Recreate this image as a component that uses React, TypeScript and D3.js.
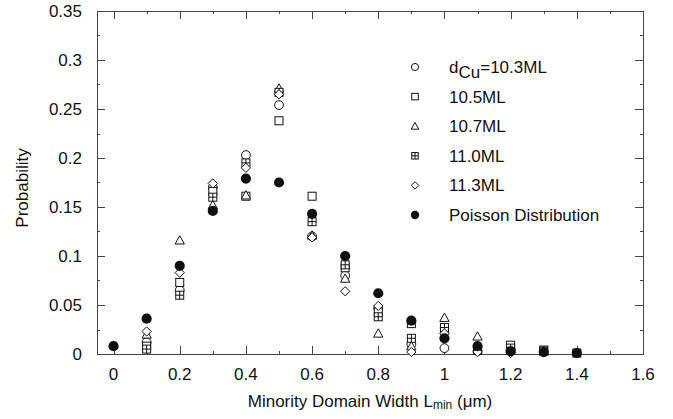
import * as d3 from 'd3';
import React, { useEffect, useRef } from 'react';

const xs = [0, 0.1, 0.2, 0.3, 0.4, 0.5, 0.6, 0.7, 0.8, 0.9, 1.0, 1.1, 1.2, 1.3, 1.4];

const cu103 = [null, 0.012, 0.065, 0.17, 0.203, 0.254, 0.12, 0.08, 0.047, 0.01, 0.006, 0.003, 0.004, null, null];
const cu105 = [null, 0.008, 0.073, 0.166, 0.161, 0.238, 0.161, 0.088, 0.043, 0.031, 0.024, 0.004, 0.009, 0.004, 0.001];
const cu107 = [null, 0.02, 0.116, 0.152, 0.162, 0.271, 0.121, 0.077, 0.021, 0.008, 0.037, 0.018, 0.005, 0.003, null];
const cu110 = [null, 0.005, 0.06, 0.16, 0.195, 0.267, 0.135, 0.091, 0.038, 0.016, 0.027, 0.004, 0.006, 0.003, null];
const cu113 = [null, 0.023, 0.083, 0.174, 0.19, 0.265, 0.119, 0.064, 0.049, 0.002, 0.021, 0.002, 0.001, null, null];
const poisson = [0.008, 0.036, 0.09, 0.146, 0.179, 0.175, 0.143, 0.1, 0.062, 0.034, 0.016, 0.008, 0.003, 0.002, 0.001];

const xTicks = [0, 0.2, 0.4, 0.6, 0.8, 1.0, 1.2, 1.4, 1.6];
const yTicks = [0, 0.05, 0.1, 0.15, 0.2, 0.25, 0.3, 0.35];

const series = [
  { name: '10.3ML', shape: 'circle', values: cu103 },
  { name: '10.5ML', shape: 'square', values: cu105 },
  { name: '10.7ML', shape: 'triangle', values: cu107 },
  { name: '11.0ML', shape: 'cross', values: cu110 },
  { name: '11.3ML', shape: 'diamond', values: cu113 },
  { name: 'Poisson Distribution', shape: 'dot', values: poisson },
];

function drawMarker(g, shape, cx, cy, s) {
  const ink = '#111';
  if (shape === 'circle') {
    g.append('circle').attr('cx', cx).attr('cy', cy).attr('r', s * 0.55)
      .attr('fill', '#fff').attr('stroke', ink).attr('stroke-width', 1);
  } else if (shape === 'square' || shape === 'cross') {
    const h = s * 0.5;
    g.append('rect').attr('x', cx - h).attr('y', cy - h).attr('width', 2 * h).attr('height', 2 * h)
      .attr('fill', '#fff').attr('stroke', ink).attr('stroke-width', 1);
    if (shape === 'cross') {
      g.append('path').attr('d', `M${cx - h},${cy}H${cx + h}M${cx},${cy - h}V${cy + h}`)
        .attr('stroke', ink).attr('stroke-width', 1);
    }
  } else if (shape === 'triangle') {
    const h = s * 0.58;
    g.append('path').attr('d', `M${cx},${cy - h}L${cx + h},${cy + h * 0.8}L${cx - h},${cy + h * 0.8}Z`)
      .attr('fill', '#fff').attr('stroke', ink).attr('stroke-width', 1);
  } else if (shape === 'diamond') {
    const h = s * 0.58;
    g.append('path').attr('d', `M${cx},${cy - h}L${cx + h},${cy}L${cx},${cy + h}L${cx - h},${cy}Z`)
      .attr('fill', '#fff').attr('stroke', ink).attr('stroke-width', 1);
  } else {
    g.append('circle').attr('cx', cx).attr('cy', cy).attr('r', s * 0.6).attr('fill', ink);
  }
}

function App() {
  const ref = useRef(null);

  useEffect(() => {
    const svg = d3.select(ref.current);
    svg.selectAll('*').remove();

    const left = 97, right = 643, top = 11, bottom = 354;
    const x = d3.scaleLinear().domain([-0.05, 1.6]).range([left, right]);
    const y = d3.scaleLinear().domain([0, 0.35]).range([bottom, top]);
    const axisColor = '#444';
    const font = 'Liberation Sans, Arial, sans-serif';

    // frame
    svg.append('rect').attr('x', left + 0.5).attr('y', top + 0.5).attr('width', right - left).attr('height', bottom - top)
      .attr('fill', 'none').attr('stroke', axisColor).attr('stroke-width', 1);

    // ticks (inward, all sides)
    const ticks = svg.append('g').attr('stroke', axisColor).attr('stroke-width', 1);
    d3.range(0, 1.61, 0.1).forEach((v, i) => {
      const len = i % 2 === 0 ? 8 : 3;
      const px = Math.round(x(v)) + 0.5;
      ticks.append('line').attr('x1', px).attr('x2', px).attr('y1', bottom).attr('y2', bottom - len);
      ticks.append('line').attr('x1', px).attr('x2', px).attr('y1', top).attr('y2', top + len);
    });
    d3.range(0, 0.351, 0.025).forEach((v, i) => {
      const len = i % 2 === 0 ? 8 : 3;
      const py = Math.round(y(v)) + 0.5;
      ticks.append('line').attr('x1', left).attr('x2', left + len).attr('y1', py).attr('y2', py);
      ticks.append('line').attr('x1', right).attr('x2', right - len).attr('y1', py).attr('y2', py);
    });

    // tick labels
    svg.append('g').selectAll('text').data(xTicks).enter().append('text')
      .attr('x', d => x(d)).attr('y', 380).attr('text-anchor', 'middle')
      .attr('font-family', font).attr('font-size', 17).attr('fill', '#111')
      .text(d => String(+d.toFixed(2)));
    svg.append('g').selectAll('text').data(yTicks).enter().append('text')
      .attr('x', 82).attr('y', d => y(d) + 6).attr('text-anchor', 'end')
      .attr('font-family', font).attr('font-size', 17).attr('fill', '#111')
      .text(d => String(+d.toFixed(3)));

    // axis titles
    const xt = svg.append('text').attr('x', 370).attr('y', 407).attr('text-anchor', 'middle')
      .attr('font-family', font).attr('font-size', 17).attr('fill', '#111');
    xt.append('tspan').text('Minority Domain Width L');
    xt.append('tspan').attr('font-size', 12).attr('dy', 2).text('min');
    xt.append('tspan').attr('dy', -2).text(' (\u03bcm)');

    svg.append('text').attr('transform', 'translate(28,188) rotate(-90)').attr('text-anchor', 'middle')
      .attr('font-family', font).attr('font-size', 17).attr('fill', '#111').text('Probability');

    // data markers
    const marks = svg.append('g');
    series.forEach(s => {
      s.values.forEach((v, i) => {
        if (v === null) return;
        drawMarker(marks, s.shape, x(xs[i]), y(v), s.shape === 'dot' ? 8.5 : 8);
      });
    });

    // legend
    const lg = svg.append('g');
    const rowY = d3.range(series.length).map(i => 67 + i * 29.6);
    series.forEach((s, i) => {
      drawMarker(lg, s.shape, 415, rowY[i], s.shape === 'dot' ? 7 : 6.5);
      const t = lg.append('text').attr('x', 449).attr('y', rowY[i] + 6)
        .attr('font-family', font).attr('font-size', 17).attr('fill', '#111');
      if (i === 0) {
        t.append('tspan').text('d');
        t.append('tspan').attr('dy', 5).text('Cu');
        t.append('tspan').attr('dy', -5).text('=10.3ML');
      } else {
        t.text(s.name);
      }
    });
  }, []);

  return <svg ref={ref} width={673} height={419} style={{ position: 'absolute', left: 0, top: 0 }}></svg>;
}

export default App;
